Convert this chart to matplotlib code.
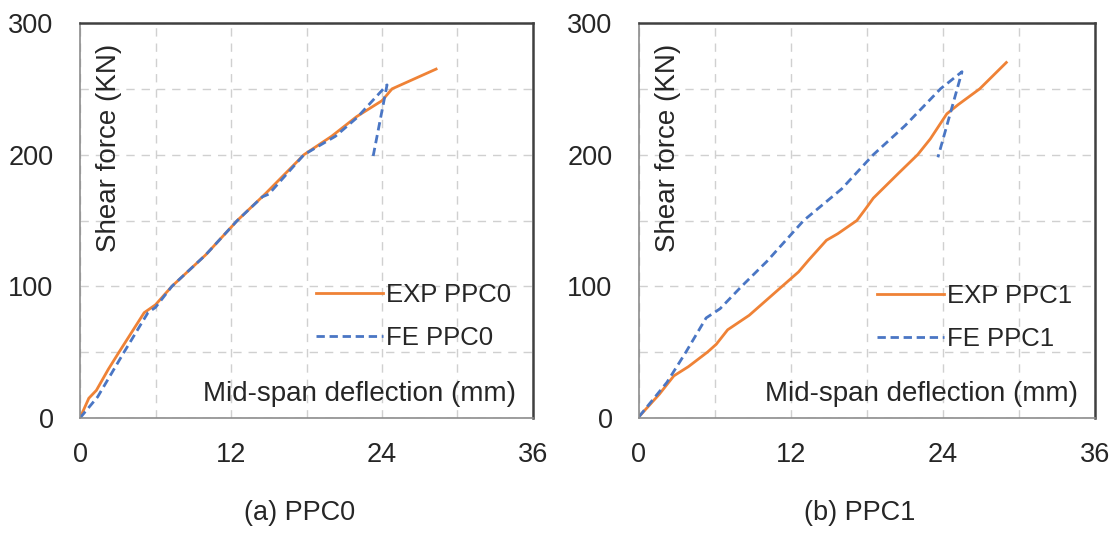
import matplotlib
matplotlib.use("Agg")
import matplotlib.pyplot as plt
from matplotlib.ticker import MultipleLocator

plt.rcParams['font.family'] = ['Liberation Sans', 'DejaVu Sans']

# Load–deflection data (mid-span deflection in mm, shear force in kN)
exp0_x = [0, 0.7, 1.3, 2.25, 3.1, 5.1, 6.0, 7.3, 10.0, 12.5, 14.7, 17.8, 20.0, 22.0, 24.0, 24.8, 28.3]
exp0_y = [0, 15, 21, 37, 50, 80, 86, 100, 124, 150, 170, 200, 214, 229, 241, 250, 265]
fe0_x = [0, 1.4, 3.5, 5.4, 6.0, 7.3, 10.0, 12.5, 14.5, 15.0, 17.8, 20.3, 22.0, 24.4, 23.3]
fe0_y = [0, 16, 50, 80, 84, 100, 124, 150, 168, 170, 200, 214, 228, 253, 199]

exp1_x = [0, 1.6, 2.75, 3.9, 5.4, 6.1, 7.0, 8.7, 11.3, 12.6, 13.4, 14.8, 15.7, 17.2, 17.9, 18.5,
          20.5, 22.0, 23.0, 24.3, 25.2, 26.9, 29.0]
exp1_y = [1, 18, 32, 39, 50, 56, 67, 78, 100, 111, 120, 135, 140, 150, 159, 167,
          186, 200, 212, 231, 238, 250, 270]
fe1_x = [0, 2.2, 3.7, 5.3, 6.4, 8.1, 10.1, 13.0, 16.0, 18.5, 21.0, 23.8, 25.5, 23.6]
fe1_y = [1, 27, 50, 76, 83, 100, 119, 150, 174, 200, 222, 250, 263, 198]

panels = [
    dict(exp=(exp0_x, exp0_y), fe=(fe0_x, fe0_y), exp_label="EXP PPC0",
         fe_label="FE PPC0", caption="(a) PPC0"),
    dict(exp=(exp1_x, exp1_y), fe=(fe1_x, fe1_y), exp_label="EXP PPC1",
         fe_label="FE PPC1", caption="(b) PPC1"),
]

x_ticks = [0, 12, 24, 36]
y_ticks = [0, 100, 200, 300]
x_label = "Mid-span deflection (mm)"
y_label = "Shear force (KN)"

ORANGE = "#EF8236"
BLUE = "#4A76C4"
TXT = "#262626"
FS_TICK = 19.5
FS_LABEL = 20
FS_LEG = 18.5
FS_CAP = 19.5

W, H = 1118, 542
fig = plt.figure(figsize=(W / 100, H / 100), dpi=100)

boxes = [(80, 533), (639, 1095)]
top_px, bot_px = 23, 418
caption_x = [300, 860]
legend_top = [0.343, 0.34]

for p, (l, r), cx, ly in zip(panels, boxes, caption_x, legend_top):
    ax = fig.add_axes([l / W, (H - bot_px) / H, (r - l) / W, (bot_px - top_px) / H])
    ax.set_xlim(0, 36)
    ax.set_ylim(0, 300)
    ax.set_xticks(x_ticks)
    ax.set_yticks(y_ticks)
    ax.xaxis.set_minor_locator(MultipleLocator(6))
    ax.yaxis.set_minor_locator(MultipleLocator(50))
    ax.grid(which="both", color="#D0D0D0", linestyle=(0, (6, 5)), linewidth=1.0)
    ax.set_axisbelow(True)
    ax.tick_params(which="both", length=0)
    ax.tick_params(axis="x", pad=17, labelsize=FS_TICK, labelcolor=TXT)
    ax.tick_params(axis="y", pad=19, labelsize=FS_TICK, labelcolor=TXT)

    for side in ("left", "bottom"):
        ax.spines[side].set_color("#8C8C8C")
        ax.spines[side].set_linewidth(1.2)
    for side in ("top", "right"):
        ax.spines[side].set_color("#404040")
        ax.spines[side].set_linewidth(1.8)

    ax.plot(*p["exp"], color=ORANGE, lw=2.0, label=p["exp_label"], solid_joinstyle="round")
    ax.plot(*p["fe"], color=BLUE, lw=2.0, dashes=(3.0, 1.7), label=p["fe_label"])

    ax.set_xlabel(x_label, fontsize=FS_LABEL, color=TXT, ha="right", va="center")
    ax.xaxis.set_label_coords(0.962, 0.06)
    ax.set_ylabel(y_label, fontsize=FS_LABEL, color=TXT, ha="center", va="center")
    ax.yaxis.set_label_coords(0.064, 0.685)

    leg = ax.legend(loc="upper left", bbox_to_anchor=(0.522, ly), frameon=False,
                    fontsize=FS_LEG, handlelength=2.6, handletextpad=0.12,
                    labelspacing=0.74, borderpad=0, borderaxespad=0)
    for t in leg.get_texts():
        t.set_color(TXT)

    fig.text(cx / W, 1 - 513 / H, p["caption"], fontsize=FS_CAP, color=TXT,
             ha="center", va="center")

fig.savefig("out.png", dpi=100)
